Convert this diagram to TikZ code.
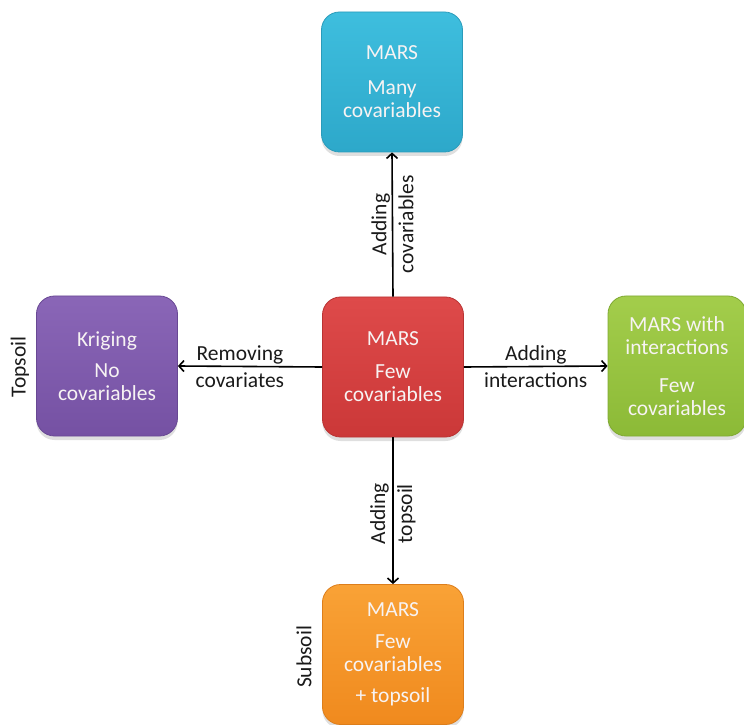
\documentclass[tikz,border=0pt]{standalone}
\usepackage{fontspec}
\setmainfont{Carlito}
\usetikzlibrary{arrows.meta,shadows}
\definecolor{cyanT}{HTML}{3EBEDE}\definecolor{cyanB}{HTML}{2DA8CA}\definecolor{cyanD}{HTML}{2A9BBA}
\definecolor{redT}{HTML}{DE4A4A}\definecolor{redB}{HTML}{CB3838}\definecolor{redD}{HTML}{B93333}
\definecolor{purT}{HTML}{8A66B7}\definecolor{purB}{HTML}{7551A3}\definecolor{purD}{HTML}{684893}
\definecolor{grnT}{HTML}{A3CD4B}\definecolor{grnB}{HTML}{8CBA37}\definecolor{grnD}{HTML}{7FA932}
\definecolor{orgT}{HTML}{F9A236}\definecolor{orgB}{HTML}{F08A1E}\definecolor{orgD}{HTML}{DD7E1B}
\definecolor{lbltext}{HTML}{1A1A1A}
\definecolor{boxtext}{HTML}{F7F3F3}
\begin{document}
\begin{tikzpicture}[x=1pt,y=1pt,
  box/.style={rounded corners=18pt, minimum width=141pt, minimum height=140pt, inner sep=0pt,
    text=boxtext, align=center, font=\fontsize{21.5}{23}\selectfont, line width=0.8pt,
    drop shadow={opacity=0.25,shadow xshift=0pt,shadow yshift=-4pt}},
  lbl/.style={align=center, font=\fontsize{21.5}{27}\selectfont, text=lbltext, inner sep=0pt},
  arr/.style={line width=1.6pt, draw=black, -{Straight Barb[length=5pt,width=11pt,line width=1.6pt]}}]
\useasboundingbox (0,0) rectangle (744,724);
\node[box, top color=redT, bottom color=redB, draw=redD] (C) at (393,357) {MARS\\[10pt]Few\\covariables};
\node[box, top color=cyanT, bottom color=cyanB, draw=cyanD] (T) at (392,642) {MARS\\[12pt]Many\\covariables};
\node[box, top color=purT, bottom color=purB, draw=purD] (L) at (107,358) {Kriging\\[8pt]No\\covariables};
\node[box, minimum width=138pt, top color=grnT, bottom color=grnB, draw=grnD] (R) at (677,358) {MARS with\\interactions\\[15pt]Few\\covariables};
\node[box, top color=orgT, bottom color=orgB, draw=orgD] (B) at (393,69.5) {MARS\\[9pt]Few\\covariables\\[8pt]+ topsoil};
\draw[arr] (C.north) -- (T.south) node[midway, lbl, rotate=90] (lt) {Adding\\covariables};
\draw[arr] (C.west) -- (L.east) node[pos=0.57, lbl] (ll) {Removing\\covariates};
\draw[arr] (C.east) -- (R.west) node[midway, lbl] (lr) {Adding\\interactions};
\draw[arr] (C.south) -- (B.north) node[pos=0.52, lbl, rotate=90] (lb) {Adding\\topsoil};
\node[lbl, rotate=90] (tops) at (20,357) {Topsoil};
\node[lbl, rotate=90] (subs) at (304,67) {Subsoil};
\end{tikzpicture}
\end{document}
